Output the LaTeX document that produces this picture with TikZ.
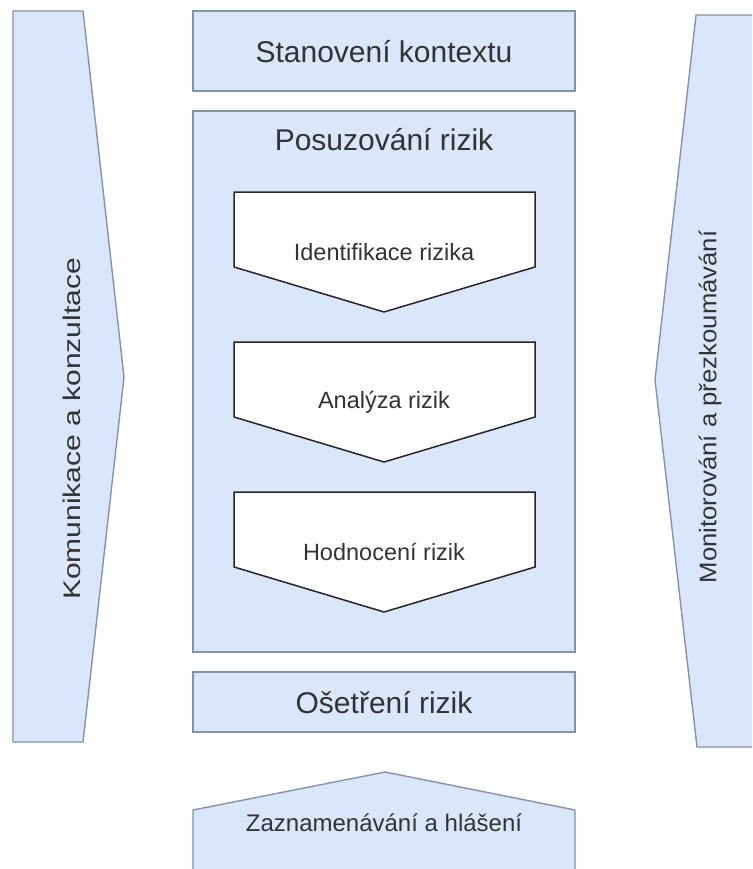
\documentclass[tikz,border=0pt]{standalone}
\usepackage{fontspec}
\setmainfont{Liberation Sans}
\definecolor{bandfill}{HTML}{DAE7FB}
\definecolor{bandline}{HTML}{8294AC}
\definecolor{txt}{HTML}{333333}
\begin{document}
\begin{tikzpicture}[x=1pt,y=-1pt,
  band/.style={fill=bandfill, draw=bandline, line width=1.4pt, line join=miter},
  stage/.style={fill=white, draw=black!85, line width=1.5pt, line join=miter},
  lbl/.style={text=txt, inner sep=0pt, anchor=center},
  big/.style={font=\fontsize{30}{36}\selectfont},
  mid/.style={font=\fontsize{24}{29}\selectfont},
  small/.style={font=\fontsize{23.5}{28}\selectfont}]
\useasboundingbox (0,0) rectangle (752,869);
\clip (0,0) rectangle (752,869);
\fill[white] (0,0) rectangle (752,869);

% side arrows
\draw[band] (13,11) -- (83,11) -- (124,377) -- (83,742) -- (13,742) -- cycle;
\draw[band] (696,15) -- (770,15) -- (770,747) -- (697,747) -- (655,380) -- cycle;

% central column
\draw[band] (193,11) rectangle (575,91);
\draw[band] (193,111) rectangle (575,652);
\draw[band] (193,672) rectangle (575,732);
\draw[band] (193,890) -- (193,810) -- (385,772) -- (575,810) -- (575,890) -- cycle;

% assessment steps
\draw[stage] (234,192) -- (535,192) -- (535,267) -- (384,312) -- (234,267) -- cycle;
\draw[stage] (234,342) -- (535,342) -- (535,417) -- (384,462) -- (234,417) -- cycle;
\draw[stage] (234,492) -- (535,492) -- (535,567) -- (384,612) -- (234,567) -- cycle;

% labels
\node[lbl,big] (ctx) at (384,52) {Stanovení kontextu};
\node[lbl,big] (ass) at (384,140) {Posuzování rizik};
\node[lbl,small] (idf) at (384,252) {Identifikace rizika};
\node[lbl,small] (ana) at (384,402) {Analýza rizik};
\node[lbl,small] (hod) at (384,552) {Hodnocení rizik};
\node[lbl,big] (tre) at (384,703) {Ošetření rizik};
\node[lbl,mid] (rec) at (384,823) {Zaznamenávání a hlášení};
\node[lbl,mid,rotate=90] (kom) at (72,429) {\scalebox{1.25}[1]{Komunikace a konzultace}};
\node[lbl,mid,rotate=90] (mon) at (710,407) {\scalebox{1.07}[1]{Monitorování a přezkoumávání}};
\end{tikzpicture}
\end{document}
